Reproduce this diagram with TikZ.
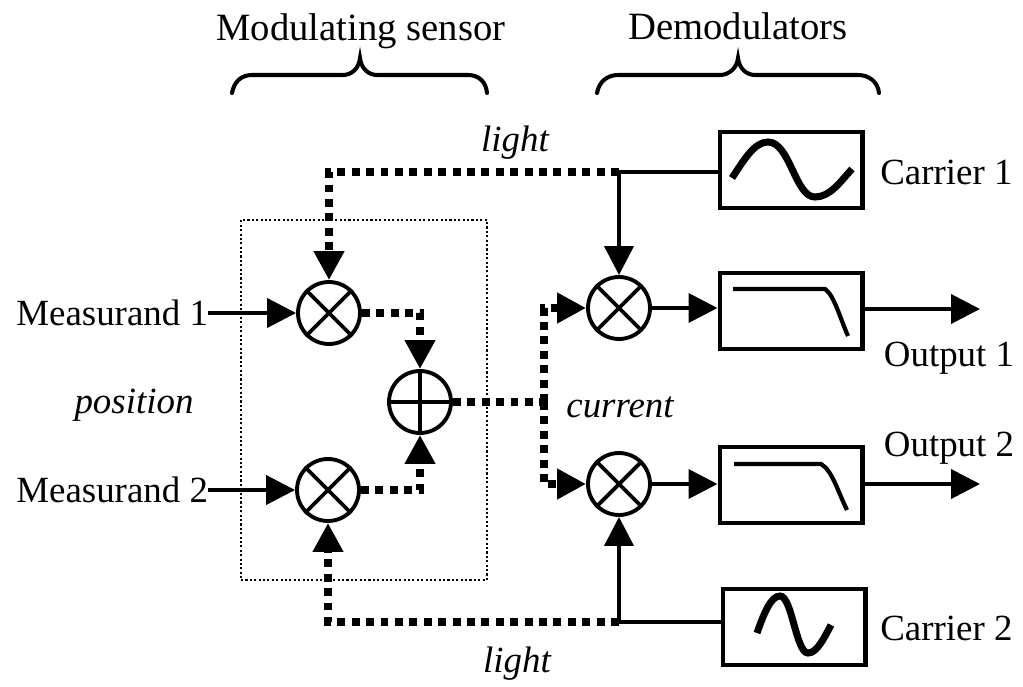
\documentclass[tikz,border=0pt]{standalone}
\usepackage{fontspec}
\setmainfont{Liberation Serif}
\usetikzlibrary{arrows.meta}

\begin{document}
\begin{tikzpicture}[
x=0.02cm,
y=-0.02cm,
every node/.style={font=\fontsize{21}{24}\selectfont},
mixer/.style={circle,draw,line width=2.2pt,inner sep=0pt,minimum size=1.24cm},
blockbox/.style={rectangle,draw,line width=2.3pt,inner sep=0pt,minimum width=2.86cm,minimum height=1.52cm},
sensorbox/.style={rectangle,draw,line width=1.4pt,dash pattern=on 1.2pt off 1.3pt,inner sep=0pt,minimum width=4.92cm,minimum height=7.2cm},
tag/.style={inner sep=0pt,align=left},
head/.style={inner sep=0pt,font=\fontsize{22}{25}\selectfont},
slant/.style={inner sep=0pt,font=\fontsize{21}{24}\selectfont\itshape},
arr/.style={-{Triangle[length=0.58cm,width=0.58cm]},line width=2.2pt},
wire/.style={line width=2.2pt},
darr/.style={-{Triangle[length=0.58cm,width=0.58cm]},line width=4.5pt,dash pattern=on 4.5pt off 3.7pt},
dwire/.style={line width=4.5pt,dash pattern=on 4.5pt off 3.7pt},
wave/.style={line width=4pt},
rolloff/.style={line width=2.4pt},
bracket/.style={line width=2.3pt,line cap=round}
]
\useasboundingbox (0,0) rectangle (1023,686);

\node[sensorbox] (sensor) at (364,400) {};

% mixers and summer
\node[mixer] (mixa) at (329,313) {};
\node[mixer] (mixb) at (328,490) {};
\node[mixer] (mixc) at (619,308) {};
\node[mixer] (mixd) at (619,484) {};
\node[mixer] (summer) at (420,402) {};
\foreach \m in {mixa,mixb,mixc,mixd} {
  \draw[wire] (\m.north west) -- (\m.south east);
  \draw[wire] (\m.north east) -- (\m.south west);
}
\draw[wire] (summer.north) -- (summer.south);
\draw[wire] (summer.west) -- (summer.east);

% blocks
\node[blockbox] (carrierone) at (791,170) {};
\node[blockbox] (lowpassone) at (791,311) {};
\node[blockbox] (lowpasstwo) at (791,485) {};
\node[blockbox] (carriertwo) at (794,627) {};
\draw[wave] (732,178) .. controls (745,158) and (755,142) .. (768,142) .. controls (790,142) and (795,197) .. (815,197) .. controls (830,197) and (840,182) .. (852,169);
\draw[wave] (757,633) .. controls (764,613) and (771,596) .. (780,596) .. controls (792,596) and (796,653) .. (808,653) .. controls (817,653) and (824,638) .. (831,625);
\draw[rolloff] (733,289) -- (825,289) .. controls (834,295) and (840,318) .. (848,336);
\draw[rolloff] (734,464) -- (821,464) .. controls (832,470) and (838,492) .. (847,510);

% labels
\node[head] (modlabel) at (361,31) {Modulating sensor};
\node[head] (demlabel) at (738,26) {Demodulators};
\node[tag,anchor=west] (measone) at (16,313) {Measurand 1};
\node[tag,anchor=west] (meastwo) at (16,490) {Measurand 2};
\node[slant] (position) at (134,405) {position};
\node[slant] (current) at (620,407) {current};
\node[slant] (lighttop) at (515,143) {light};
\node[slant] (lightbot) at (517,664) {light};
\node[tag,anchor=west] (carrieronetext) at (880,172) {Carrier 1};
\node[tag,anchor=west] (carriertwotext) at (880,628) {Carrier 2};
\node[tag] (outonetext) at (949,358) {Output 1};
\node[tag] (outtwotext) at (949,448) {Output 2};

% braces
\draw[bracket] (232,93) .. controls (234,82) and (241,75) .. (252,75) -- (343,75) .. controls (352,75) and (359,68) .. (360,58) .. controls (361,68) and (368,75) .. (377,75) -- (468,75) .. controls (479,75) and (486,82) .. (487,93);
\draw[bracket] (597,93) .. controls (599,82) and (607,75) .. (618,75) -- (720,75) .. controls (729,75) and (737,68) .. (738,58) .. controls (739,68) and (746,75) .. (755,75) -- (858,75) .. controls (869,75) and (878,82) .. (879,93);

% junctions
\coordinate (tapone) at (619,172);
\coordinate (taptwo) at (619,622);
\coordinate (split) at (544,402);
\coordinate (outone) at (980,309);
\coordinate (outtwo) at (980,484);

% connectors
\draw[arr] (measone.east) -- (mixa.west);
\draw[arr] (meastwo.east) -- (mixb.west);
\draw[darr] (tapone) -| (mixa.north);
\draw[darr] (taptwo) -| (mixb.south);
\draw[darr] (mixa.east) -| (summer.north);
\draw[darr] (mixb.east) -| (summer.south);
\draw[dwire] (summer.east) -- (split);
\draw[darr] (split) |- (mixc.west);
\draw[darr] (split) |- (mixd.west);
\draw[wire] (carrierone.west |- tapone) -- (tapone);
\draw[arr] (tapone) -- (mixc.north);
\draw[wire] (carriertwo.west |- taptwo) -- (taptwo);
\draw[arr] (taptwo) -- (mixd.south);
\draw[arr] (mixc.east) -- (mixc -| lowpassone.west);
\draw[arr] (mixd.east) -- (mixd -| lowpasstwo.west);
\draw[arr] (lowpassone.east |- outone) -- (outone);
\draw[arr] (lowpasstwo.east |- outtwo) -- (outtwo);
\end{tikzpicture}
\end{document}
